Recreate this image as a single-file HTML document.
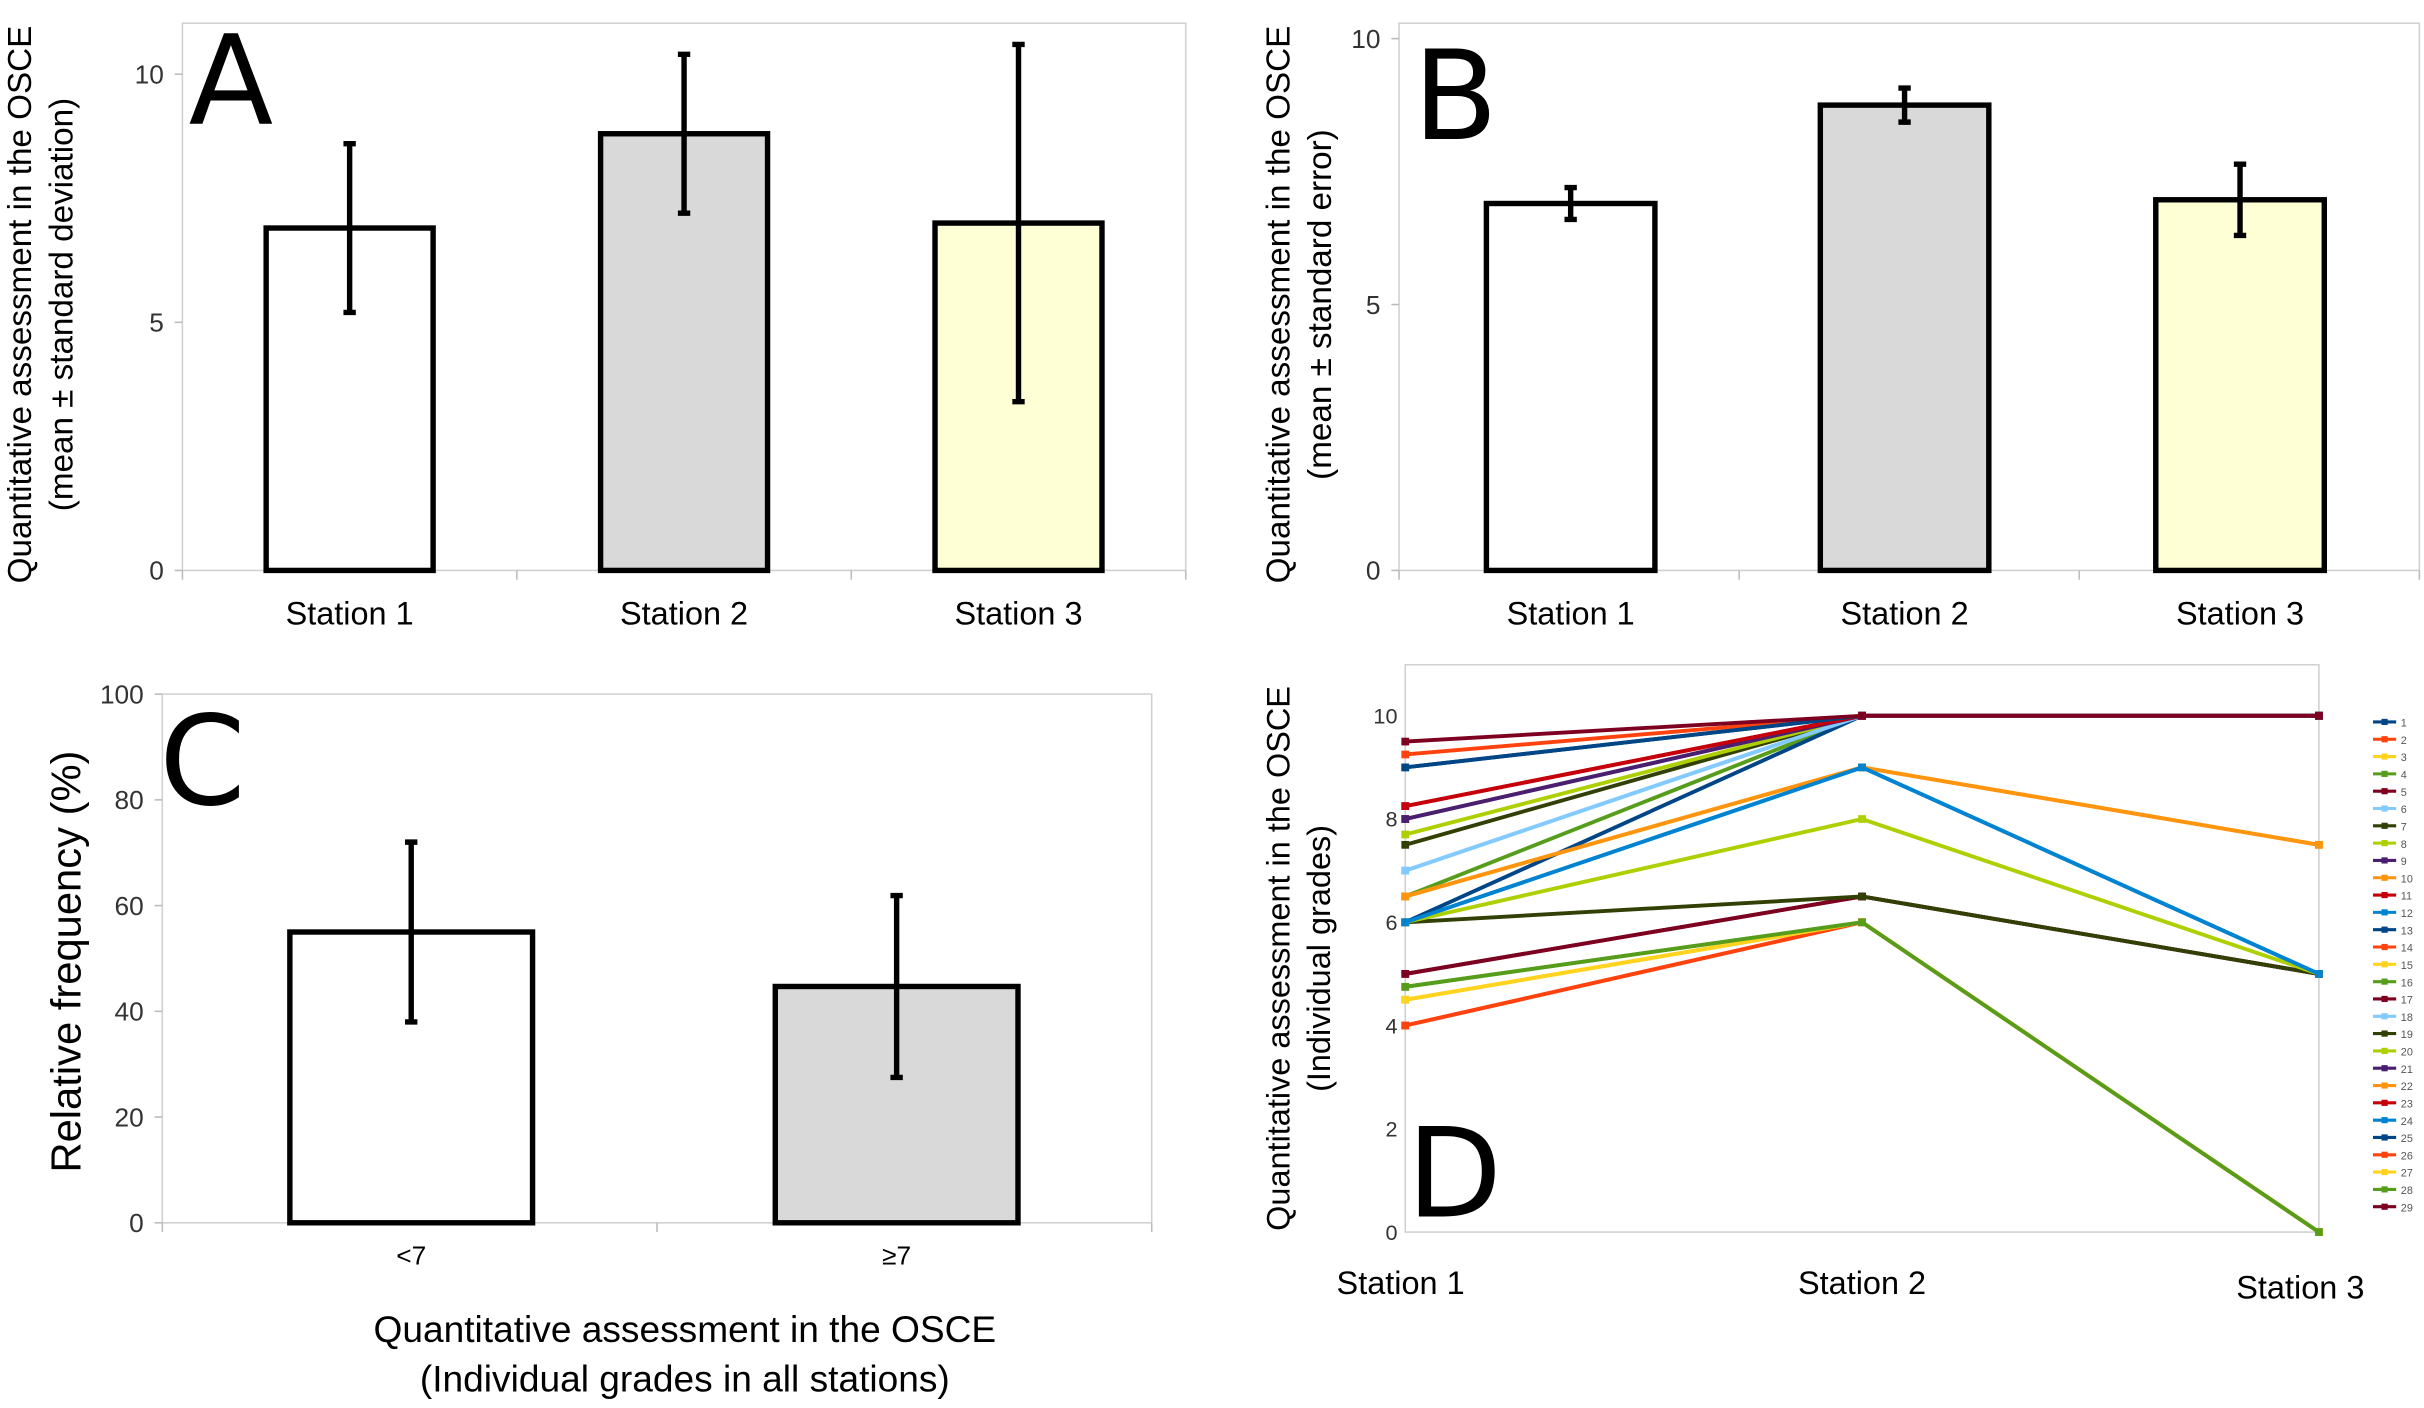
<!DOCTYPE html>
<html><head><meta charset="utf-8"><style>
html,body{margin:0;padding:0;background:#fff;}
svg{display:block;font-family:"Liberation Sans",sans-serif;}
</style></head><body>
<svg id="fig" width="2424" height="1408" viewBox="0 0 1568 910.8" preserveAspectRatio="none" xmlns="http://www.w3.org/2000/svg">
<rect width="1568" height="911" fill="#fff"/>
</svg>
<script>
const NS="http://www.w3.org/2000/svg";
const svg=document.getElementById('fig');
function mk(tag,attrs,parent,text){const e=document.createElementNS(NS,tag);for(const k in attrs)e.setAttribute(k,attrs[k]);if(text!==undefined)e.textContent=text;(parent||svg).appendChild(e);return e;}

// Panel A data
const catsA=["Station 1","Station 2","Station 3"];
const meanA=[6.9,8.8,7.0];
const sdA=[1.7,1.6,3.6];
const ticksA=[0,5,10];
// Panel B data
const catsB=["Station 1","Station 2","Station 3"];
const meanB=[6.9,8.75,6.97];
const seB=[0.3,0.32,0.67];
const ticksB=[0,5,10];
// Panel C data
const catsC=["<7","≥7"];
const meanC=[55,44.7];
const errC=[17,17.2];
const ticksC=[0,20,40,60,80,100];
// Panel D data
const catsD=["Station 1","Station 2","Station 3"];
const ticksD=[0,2,4,6,8,10];
const s1D=[9,9.25,4.5,6.5,5,7,7.5,7.7,8,6.5,8.25,6,6,4,4.5,4.75,5,7,6,6,8,6.5,8.25,6,9,4,4.5,4.75,9.5];
const s2D=[10,10,6,10,6.5,10,10,10,10,9,10,9,10,6,6,6,6.5,10,6.5,8,10,9,10,9,10,6,6,6,10];
const s3D=[10,10,0,10,5,10,10,10,10,7.5,10,5,10,0,0,0,5,10,5,5,10,7.5,10,5,10,0,0,0,10];
const colorsD=["#004586","#ff420e","#ffd320","#579d1c","#7e0021","#83caff","#314004","#aecf00","#4b1f6f","#ff950e","#c5000b","#0084d1"];

const barFills=["#ffffff","#d9d9d9","#ffffd6"];

function barPanel(p){
  const g=mk('g',{},svg);
  
  
  const Y=v=>p.y0-(v-0)*(p.y0-p.yTop)/p.vTop;
  const pl=mk('rect',{x:p.x0,y:p.frameTop,width:p.x1-p.x0,height:p.y0-p.frameTop,fill:'none',stroke:'#d0d0d0','stroke-width':1},g);
  
  p.ticks.forEach(t=>{
    const tx=mk('text',{x:p.x0-12,y:Y(t)+6,'text-anchor':'end','font-size':p.tickFs,fill:'#333'},g,String(t));
    
    mk('line',{x1:p.x0-5,x2:p.x0,y1:Y(t),y2:Y(t),stroke:'#bbb'},g);
  });
  const n=p.cats.length,w=(p.x1-p.x0)/n;
  for(let i=0;i<=n;i++)mk('line',{x1:p.x0+i*w,x2:p.x0+i*w,y1:p.y0,y2:p.y0+6,stroke:'#bbb'},g);
  p.cats.forEach((c,i)=>{
    const cx=p.x0+w*(i+0.5)+(p.off?p.off[i]:0);
    const b=mk('rect',{x:cx-p.bw/2,y:Y(p.vals[i]),width:p.bw,height:p.y0-Y(p.vals[i]),fill:barFills[i],stroke:'#000','stroke-width':3.5},g);
    
    const hi=Y(p.vals[i]+p.errs[i]),lo=Y(p.vals[i]-p.errs[i]);
    const e=mk('path',{d:`M${cx},${hi}V${lo}M${cx-4},${hi}H${cx+4}M${cx-4},${lo}H${cx+4}`,stroke:'#000','stroke-width':3.5,fill:'none'},g);
    
    const l=mk('text',{x:cx,y:p.labY,'text-anchor':'middle','font-size':p.catFs,fill:'#000'},g,c);
    
  });
  const L=mk('text',{x:p.letX,y:p.letY,'font-size':80,fill:'#000','font-family':'"DejaVu Sans",sans-serif'},g,p.letter);
  
  return {g,Y};
}

const A=barPanel({name:'panel-a',x0:118,x1:767,frameTop:15,y0:369,yTop:48,vTop:10,ticks:ticksA,cats:catsA,vals:meanA,errs:sdA,bw:108,labY:404,tickFs:17,catFs:21,letter:'A',letX:122,letY:80});
const B=barPanel({name:'panel-b',x0:905,x1:1565,frameTop:15,y0:369,yTop:25,vTop:10,ticks:ticksB,cats:catsB,vals:meanB,errs:seB,bw:109,labY:404,tickFs:17,catFs:21,letter:'B',letX:914,letY:90,off:[1,-3,-6]});
const C=barPanel({name:'panel-c',x0:105,x1:745,frameTop:449,y0:791,yTop:449,vTop:100,ticks:ticksC,cats:catsC,vals:meanC,errs:errC,bw:157,labY:818,tickFs:17,catFs:17,letter:'C',letX:103,letY:520,off:[1,-5]});

function rotText(x,y,lines,fs,name){
  const t=mk('text',{transform:`translate(${x},${y}) rotate(-90)`,'text-anchor':'middle','font-size':fs,fill:'#000'},svg);
  
  lines.forEach((s,i)=>mk('tspan',{x:0,dy:i?fs*1.25:0},t,s));
}
rotText(20,197,["Quantitative assessment in the OSCE","(mean ± standard deviation)"],21.5,'y-axis-title-a');
rotText(834,197,["Quantitative assessment in the OSCE","(mean ± standard error)"],21.5,'y-axis-title-b');
rotText(52,622,["Relative frequency (%)"],27,'y-axis-title-c');
rotText(834,620,["Quantitative assessment in the OSCE","(Individual grades)"],21,'y-axis-title-d');
const xt=mk('text',{'text-anchor':'middle','font-size':24,fill:'#000'},svg);

mk('tspan',{x:443,y:868},xt,"Quantitative assessment in the OSCE");
mk('tspan',{x:443,y:900},xt,"(Individual grades in all stations)");

// Panel D
const gD=mk('g',{},svg);


const dx0=909,dx1=1500,dy0=797,dyTop=463;
const YD=v=>dy0-v*(dy0-dyTop)/10;
const XD=i=>dx0+i*(dx1-dx0)/(catsD.length-1);
const pd=mk('rect',{x:dx0,y:430,width:dx1-dx0,height:dy0-430,fill:'none',stroke:'#d0d0d0'},gD);

ticksD.forEach(t=>{
  const tx=mk('text',{x:dx0-5,y:YD(t)+5,'text-anchor':'end','font-size':14,fill:'#333'},gD,String(t));
  
});
catsD.forEach((c,i)=>{
  const tx=mk('text',{x:XD(i)-(i===2?12:(i===0?3:0)),y:i===2?840:837,'text-anchor':'middle','font-size':21,fill:'#000'},gD,c);
  
});
for(let k=0;k<s1D.length;k++){
  const col=colorsD[k%colorsD.length];
  const vals=[s1D[k],s2D[k],s3D[k]];
  const pts=vals.map((v,i)=>`${XD(i)},${YD(v)}`).join(' ');
  const pl=mk('polyline',{points:pts,fill:'none',stroke:col,'stroke-width':2.5},gD);
  
  vals.forEach((v,i)=>{
    const m=mk('rect',{x:XD(i)-2.5,y:YD(v)-2.5,width:5,height:5,fill:col},gD);
    
  });
}
for(let k=0;k<s1D.length;k++){
  const col=colorsD[k%colorsD.length];const y=467+k*11.2;
  const le=mk('g',{},gD);
  
  mk('line',{x1:1535,x2:1550,y1:y,y2:y,stroke:col,'stroke-width':2},le);
  mk('rect',{x:1540.5,y:y-2,width:4,height:4,fill:col},le);
  mk('text',{x:1553,y:y+3,'font-size':7,fill:'#555'},le,String(k+1));
}
const LD=mk('text',{x:910,y:787,'font-size':80,fill:'#000','font-family':'"DejaVu Sans",sans-serif'},gD,'D');

</script>
</body></html>
